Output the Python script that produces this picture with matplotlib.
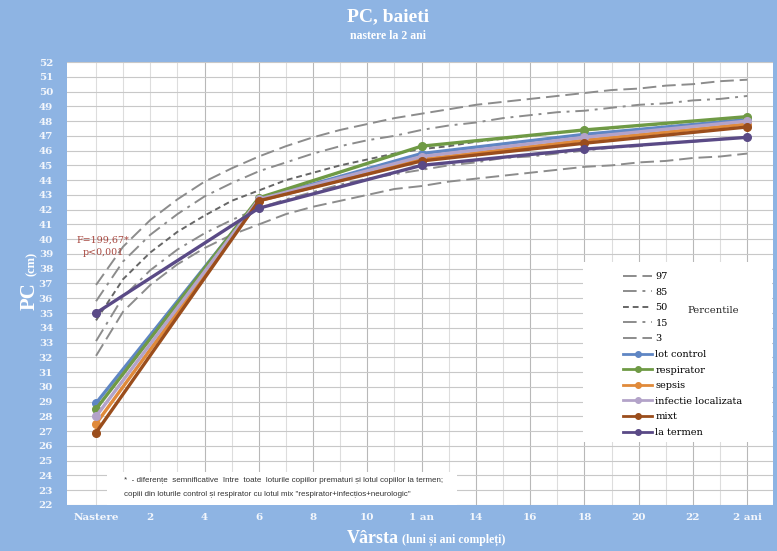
import numpy as np
import matplotlib
matplotlib.use("Agg")
import matplotlib.pyplot as plt
from matplotlib.lines import Line2D
from matplotlib.patches import Rectangle

# age in months (0 = nastere)
months = list(range(0, 25))
visit_months = [0, 6, 12, 18, 24]

# percentile curves (cm)
p97 = [36.9, 39.5, 41.3, 42.7, 43.9, 44.8, 45.6, 46.3, 46.9, 47.4, 47.8, 48.2, 48.5,
       48.8, 49.1, 49.3, 49.5, 49.7, 49.9, 50.1, 50.2, 50.4, 50.5, 50.7, 50.8]
p85 = [35.8, 38.5, 40.3, 41.7, 42.9, 43.8, 44.6, 45.2, 45.8, 46.3, 46.7, 47.0, 47.4,
       47.7, 47.9, 48.2, 48.4, 48.6, 48.7, 48.9, 49.1, 49.2, 49.4, 49.5, 49.7]
p50 = [34.5, 37.3, 39.1, 40.5, 41.6, 42.6, 43.3, 44.0, 44.5, 45.0, 45.4, 45.8, 46.1,
       46.3, 46.6, 46.8, 47.0, 47.2, 47.4, 47.5, 47.7, 47.8, 48.0, 48.1, 48.3]
p15 = [33.1, 36.1, 37.9, 39.3, 40.4, 41.3, 42.1, 42.7, 43.2, 43.7, 44.1, 44.4, 44.7,
       45.0, 45.2, 45.5, 45.6, 45.8, 46.0, 46.2, 46.3, 46.5, 46.6, 46.8, 46.9]
p3 = [32.1, 35.1, 36.9, 38.3, 39.4, 40.3, 41.0, 41.7, 42.2, 42.6, 43.0, 43.4, 43.6,
      43.9, 44.1, 44.3, 44.5, 44.7, 44.9, 45.0, 45.2, 45.3, 45.5, 45.6, 45.8]

# group means (cm)
lot_control = [28.9, 42.7, 45.8, 47.1, 48.1]
respirator = [28.5, 42.8, 46.3, 47.4, 48.3]
sepsis = [27.5, 42.6, 45.4, 46.7, 47.8]
infectie_localizata = [28.0, 42.7, 45.6, 46.9, 48.0]
mixt = [26.9, 42.6, 45.3, 46.5, 47.6]
la_termen = [35.0, 42.1, 45.0, 46.1, 46.9]

tick_months = [0, 2, 4, 6, 8, 10, 12, 14, 16, 18, 20, 22, 24]
tick_labels = ["Nastere", "2", "4", "6", "8", "10", "1 an", "14", "16", "18", "20", "22", "2 ani"]

BG = "#8eb4e3"
SERIF = "Liberation Serif"
WIDE_SERIF = "DejaVu Serif"

fig = plt.figure(figsize=(7.77, 5.51), dpi=100, facecolor=BG)
ax = fig.add_axes([67 / 777, 1 - 505 / 551, 706 / 777, 443 / 551])
ax.set_facecolor("white")

ax.set_xlim(-1.07, 24.95)
ax.set_ylim(22, 52)

# grid
for m in range(0, 25):
    ax.axvline(m, color="#b8b8b8" if m % 2 == 0 and m >= 4 else "#dddddd", lw=0.8, zorder=0)
for v in range(22, 53):
    ax.axhline(v, color="#c8c8c8", lw=0.8, zorder=0)

perc_styles = [
    ("97", p97, "#8c8c8c", (0, (7, 3))),
    ("85", p85, "#8c8c8c", (0, (7, 3, 1.5, 3))),
    ("50", p50, "#666666", (0, (3, 2))),
    ("15", p15, "#8c8c8c", (0, (7, 3, 1.5, 3))),
    ("3", p3, "#8c8c8c", (0, (7, 3))),
]
handles = []
for name, vals, col, ls in perc_styles:
    ax.plot(months, vals, color=col, lw=1.4, linestyle=ls, zorder=2)
    handles.append(Line2D([], [], color=col, lw=1.4, linestyle=ls, label=name))

groups = [
    ("lot control", lot_control, "#5f86c4"),
    ("respirator", respirator, "#6f9a45"),
    ("sepsis", sepsis, "#e08a3a"),
    ("infectie localizata", infectie_localizata, "#b3a3c9"),
    ("mixt", mixt, "#9a4d1c"),
    ("la termen", la_termen, "#5a4a86"),
]
for name, vals, col in groups:
    ax.plot(visit_months, vals, color=col, lw=2.4, marker="o", ms=5.5, zorder=3)
    handles.append(Line2D([], [], color=col, lw=2.0, marker="o", ms=4, label=name))

ax.set_xticks(tick_months)
ax.set_xticklabels(tick_labels)
ax.set_yticks(range(22, 53))
ax.tick_params(axis="both", length=0, colors="white")
ax.tick_params(axis="x", pad=6)
ax.tick_params(axis="y", pad=10)
for lab in ax.get_xticklabels() + ax.get_yticklabels():
    lab.set_fontfamily(WIDE_SERIF)
    lab.set_fontweight("bold")
    lab.set_fontsize(7.5)
    lab.set_color("#f4f7fc")
for s in ax.spines.values():
    s.set_visible(False)

# legend box
ax.add_patch(Rectangle((0.731, 0.142), 0.268, 0.407, transform=ax.transAxes,
                       facecolor="white", edgecolor="none", zorder=4))
leg = ax.legend(handles=handles, loc="upper left", bbox_to_anchor=(0.781, 0.537),
                frameon=False, prop={"family": WIDE_SERIF, "size": 7},
                handlelength=3.0, handletextpad=0.3, labelspacing=0.68, borderpad=0)
leg.set_zorder(5)
ax.text(0.915, 0.44, "Percentile", transform=ax.transAxes, ha="center", va="center",
        family=WIDE_SERIF, fontsize=7.2, color="#222222", zorder=6)

# statistic annotation
ax.text(0.051, 0.598, "F=199,67*", transform=ax.transAxes, ha="center", va="center",
        family=WIDE_SERIF, fontsize=6.8, color="#a84840", zorder=6)
ax.text(0.051, 0.571, "p<0,001", transform=ax.transAxes, ha="center", va="center",
        family=WIDE_SERIF, fontsize=6.8, color="#a84840", zorder=6)

# footnote box
ax.add_patch(Rectangle((0.057, 0.0), 0.496, 0.074, transform=ax.transAxes,
                       facecolor="white", edgecolor="none", zorder=4))
ax.text(0.081, 0.056, "*  - diferențe  semnificative  între  toate  loturile copiilor prematuri și lotul copiilor la termen;",
        transform=ax.transAxes, ha="left", va="center", family="Liberation Sans",
        fontsize=5.8, color="#333333", zorder=6)
ax.text(0.081, 0.023, "copiii din loturile control și respirator cu lotul mix \"respirator+infecțios+neurologic\"",
        transform=ax.transAxes, ha="left", va="center", family="Liberation Sans",
        fontsize=5.8, color="#333333", zorder=6)

# titles
fig.text(0.5, 1 - 17 / 551, "PC, baieti", ha="center", va="center", family=SERIF,
         fontweight="bold", fontsize=14, color="white")
fig.text(0.5, 1 - 36 / 551, "nastere la 2 ani", ha="center", va="center", family=SERIF,
         fontweight="bold", fontsize=8.5, color="white")

# axis titles
fig.text(399 / 777, 1 - 543 / 551, "Vârsta", ha="right", va="baseline", family=SERIF,
         fontweight="bold", fontsize=13, color="white")
fig.text(402 / 777, 1 - 543 / 551, "(luni și ani compleți)", ha="left", va="baseline",
         family=SERIF, fontweight="bold", fontsize=8.5, color="white")
fig.text(35 / 777, 1 - 282 / 551, "PC", rotation=90, rotation_mode="anchor", ha="right",
         va="baseline", family=SERIF, fontweight="bold", fontsize=15, color="white")
fig.text(35 / 777, 1 - 276 / 551, "(cm)", rotation=90, rotation_mode="anchor", ha="left",
         va="baseline", family=SERIF, fontweight="bold", fontsize=9, color="white")

fig.savefig("out.png", dpi=100, facecolor=BG)
